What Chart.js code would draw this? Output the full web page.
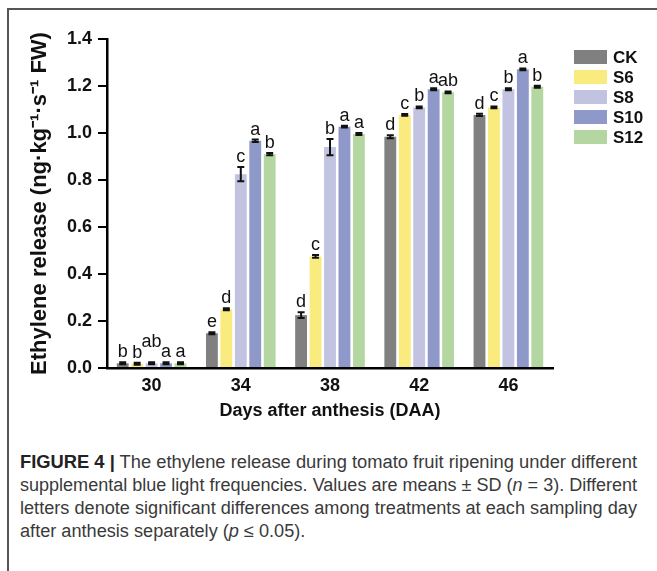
<!DOCTYPE html>
<html>
<head>
<meta charset="utf-8">
<script src="https://cdn.jsdelivr.net/npm/chart.js@4.4.1/dist/chart.umd.min.js"></script>
<style>
  html, body { margin: 0; padding: 0; background: #fff; }
  body { width: 657px; height: 571px; position: relative; overflow: hidden; }
  #frame { position: absolute; left: 7px; top: 8px; right: -5px; bottom: -5px;
    border-left: 2px solid #555; border-top: 2px solid #555; }
  #chart { position: absolute; left: 0; top: 0; }
  #caption { position: absolute; left: 20px; top: 451px; width: 617px;
    font-family: "Liberation Sans", Arial, sans-serif; font-size: 18px; line-height: 23px; color: #3a3a3a; }
  #caption .ln { white-space: nowrap; height: 23px; }
  #caption .ln span { display: inline-block; transform-origin: 0 50%; }
  #caption b { color: #222; }
</style>
</head>
<body>
<div id="frame"></div>
<canvas id="chart" width="657" height="425"></canvas>
<div id="caption">
  <div class="ln"><span><b>FIGURE 4 |</b> The ethylene release during tomato fruit ripening under different</span></div>
  <div class="ln"><span>supplemental blue light frequencies. Values are means ± SD (<i>n</i> = 3). Different</span></div>
  <div class="ln"><span>letters denote significant differences among treatments at each sampling day</span></div>
  <div class="ln last"><span>after anthesis separately (<i>p</i> ≤ 0.05).</span></div>
</div>
<script>
// sampling days (DAA)
const days = ["30", "34", "38", "42", "46"];
const treatments = ["CK", "S6", "S8", "S10", "S12"];
const colors = ["#808080", "#f9eb7d", "#c1c3e1", "#8e99c9", "#b4d6a0"];

// ethylene release, ng·kg-1·s-1 FW
const ckValues = [0.02, 0.148, 0.225, 0.984, 1.077];
const s6Values = [0.018, 0.25, 0.475, 1.077, 1.109];
const s8Values = [0.02, 0.825, 0.94, 1.109, 1.186];
const s10Values = [0.02, 0.967, 1.027, 1.186, 1.271];
const s12Values = [0.02, 0.91, 0.996, 1.173, 1.197];

// SD
const ckErr = [0.004, 0.004, 0.012, 0.006, 0.005];
const s6Err = [0.004, 0.004, 0.006, 0.004, 0.004];
const s8Err = [0.004, 0.03, 0.035, 0.004, 0.004];
const s10Err = [0.004, 0.005, 0.004, 0.004, 0.004];
const s12Err = [0.004, 0.005, 0.004, 0.004, 0.004];

// significance letters
const ckLetters = ["b", "e", "d", "d", "d"];
const s6Letters = ["b", "d", "c", "c", "c"];
const s8Letters = ["ab", "c", "b", "b", "b"];
const s10Letters = ["a", "a", "a", "a", "a"];
const s12Letters = ["a", "b", "a", "ab", "b"];

const yTicks = [0, 0.2, 0.4, 0.6, 0.8, 1.0, 1.2, 1.4];

const allValues = [ckValues, s6Values, s8Values, s10Values, s12Values];
const allErr = [ckErr, s6Err, s8Err, s10Err, s12Err];
const allLetters = [ckLetters, s6Letters, s8Letters, s10Letters, s12Letters];

const FONT = "'Liberation Sans', Arial, sans-serif";

// error bars + letters above each bar
const errorBarPlugin = {
  id: "errorBars",
  afterDatasetsDraw(chart) {
    const ctx = chart.ctx;
    const y = chart.scales.y;
    ctx.save();
    ctx.strokeStyle = "#111";
    ctx.fillStyle = "#111";
    ctx.lineWidth = 2;
    ctx.font = "18px " + FONT;
    ctx.textAlign = "center";
    ctx.textBaseline = "alphabetic";
    chart.data.datasets.forEach((ds, di) => {
      const meta = chart.getDatasetMeta(di);
      meta.data.forEach((bar, i) => {
        const v = ds.data[i];
        const e = allErr[di][i];
        const top = y.getPixelForValue(v + e);
        const bot = y.getPixelForValue(v - e);
        ctx.beginPath();
        ctx.moveTo(bar.x, top);
        ctx.lineTo(bar.x, bot);
        ctx.moveTo(bar.x - 3.5, top);
        ctx.lineTo(bar.x + 3.5, top);
        ctx.moveTo(bar.x - 3.5, bot);
        ctx.lineTo(bar.x + 3.5, bot);
        ctx.stroke();
        const txt = allLetters[di][i];
        let lift = 0;
        // wide labels squeezed between neighbours get raised
        if (txt.length > 1 && di > 0 && di < chart.data.datasets.length - 1) lift = 10;
        ctx.fillText(txt, bar.x, top - 5 - lift);
      });
    });
    ctx.restore();
  }
};

// legend drawn at the right
const legendPlugin = {
  id: "sideLegend",
  afterDraw(chart) {
    const ctx = chart.ctx;
    ctx.save();
    ctx.font = "bold 17px " + FONT;
    ctx.textBaseline = "middle";
    ctx.textAlign = "left";
    chart.data.datasets.forEach((ds, i) => {
      const cy = 57 + i * 20;
      ctx.fillStyle = ds.backgroundColor;
      ctx.fillRect(574, cy - 7, 33, 14);
      ctx.fillStyle = "#111";
      ctx.fillText(ds.label, 613, cy + 1);
    });
    ctx.restore();
  }
};

const datasets = treatments.map((t, i) => ({
  label: t,
  data: allValues[i],
  backgroundColor: colors[i],
  borderWidth: 0,
  categoryPercentage: 0.81,
  barPercentage: 0.82
}));

new Chart(document.getElementById("chart"), {
  type: "bar",
  data: { labels: days, datasets: datasets },
  options: {
    responsive: false,
    animation: false,
    devicePixelRatio: 1,
    layout: { padding: { left: 0, top: 39, right: 104, bottom: 0 } },
    plugins: {
      legend: { display: false },
      tooltip: { enabled: false }
    },
    scales: {
      x: {
        grid: { display: false, drawTicks: false },
        border: { display: true, color: "#000", width: 2.5 },
        ticks: { color: "#111", font: { family: FONT, size: 18, weight: "bold" }, padding: 7, maxRotation: 0 },
        title: { display: true, text: "Days after anthesis (DAA)", color: "#111",
          font: { family: FONT, size: 18, weight: "bold" }, padding: { top: 0, bottom: 3 } },
        afterFit(scale) { scale.height = 425 - 368; }
      },
      y: {
        min: 0,
        max: 1.4,
        afterBuildTicks(scale) { scale.ticks = yTicks.map(v => ({ value: v })); },
        grid: { drawOnChartArea: false, drawTicks: true, tickLength: 9, color: "#000", lineWidth: 2 },
        border: { display: true, color: "#000", width: 2.5 },
        ticks: { color: "#111", font: { family: FONT, size: 18, weight: "bold" }, padding: 6,
          callback: (v) => Number(v).toFixed(1) },
        title: { display: true, text: "Ethylene release (ng·kg⁻¹·s⁻¹ FW)", color: "#111",
          font: { family: FONT, size: 22, weight: "bold" }, padding: { top: 27, bottom: 0 } },
        afterFit(scale) { scale.width = 107; }
      }
    }
  },
  plugins: [errorBarPlugin, legendPlugin]
});

// fit caption lines to the justified column width
const lines = document.querySelectorAll("#caption .ln span");
let lastScale = 1;
lines.forEach((s) => {
  const w = s.getBoundingClientRect().width;
  if (!s.parentNode.classList.contains("last")) {
    lastScale = 617 / w;
  }
  s.style.transform = "scaleX(" + lastScale + ")";
});
</script>
</body>
</html>
